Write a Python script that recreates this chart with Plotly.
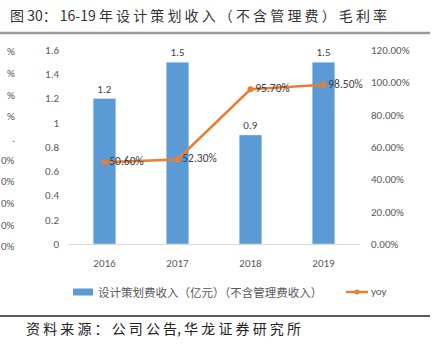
import plotly.graph_objects as go

years = ["2016", "2017", "2018", "2019"]
revenue = [1.2, 1.5, 0.9, 1.5]
yoy = [0.506, 0.523, 0.957, 0.985]
yoy_labels = ["50.60%", "52.30%", "95.70%", "98.50%"]
edge_fragments = ["%", "%", "%", "%", ".", "0%", "0%", "0%", "0%", "0%"]
edge_y_px = [51, 73, 95, 116, 138, 160, 181, 203, 225, 246]

L, R, T, B = 68, 72, 50, 104
W, H = 432, 348
pw, ph = W - L - R, H - T - B
def px(x): return (x - L) / pw
def py(y): return (H - B - y) / ph

gray = "#595959"
numfont = "Calibri, Carlito, 'Open Sans', 'Liberation Sans', sans-serif"
cjk = "'Noto Sans CJK SC', sans-serif"
blue, orange = "#5B9BD5", "#ED7D31"

fig = go.Figure()
fig.add_trace(go.Bar(
    x=years, y=revenue, name="设计策划费收入（亿元）（不含管理费收入）",
    marker_color=blue, width=0.31,
    text=[str(v) for v in revenue], textposition="outside", cliponaxis=False,
    textfont=dict(color="#404040", size=11, family=numfont),
))
fig.add_trace(go.Scatter(
    x=years, y=yoy, name="yoy", yaxis="y2", mode="lines+markers+text",
    line=dict(color=orange, width=2.5), marker=dict(size=6, color=orange),
    text=yoy_labels, textposition="middle right", cliponaxis=False,
    textfont=dict(color="#404040", size=11.5, family=numfont),
))

fig.update_layout(
    width=W, height=H, margin=dict(l=L, r=R, t=T, b=B),
    paper_bgcolor="white", plot_bgcolor="white",
    font=dict(family=numfont, color=gray, size=11),
    xaxis=dict(showline=True, linecolor="#D9D9D9", linewidth=1, ticks="",
               tickfont=dict(size=11, color=gray), showgrid=False,
               ticklabelstandoff=9),
    yaxis=dict(range=[0, 1.6], dtick=0.2, showgrid=False, zeroline=False,
               tickfont=dict(size=11, color=gray), ticklabelstandoff=8),
    yaxis2=dict(range=[0, 1.2], dtick=0.2, overlaying="y", side="right",
                tickformat=".2%", showgrid=False, zeroline=False,
                tickfont=dict(size=11, color=gray), ticklabelstandoff=10),
    showlegend=False,
)

def spaced(s):
    return " ".join(list(s))

annotations = [
    dict(text="图 30： 16-19 " + spaced("年设计策划收入（不含管理费）毛利率"), x=px(8), y=py(15),
         xref="paper", yref="paper", xanchor="left", yanchor="middle", showarrow=False,
         font=dict(family=cjk, size=14, color="#333333")),
    dict(text=spaced("资料来源：公司公告") + ", " + spaced("华龙证券研究所"), x=px(24), y=py(328),
         xref="paper", yref="paper", xanchor="left", yanchor="middle", showarrow=False,
         font=dict(family=cjk, size=14, color="#222222")),
    dict(text="设计策划费收入（亿元）（不含管理费收入）", x=px(96), y=py(292),
         xref="paper", yref="paper", xanchor="left", yanchor="middle", showarrow=False,
         font=dict(family=cjk, size=11.5, color=gray)),
    dict(text="yoy", x=px(369), y=py(291), xref="paper", yref="paper",
         xanchor="left", yanchor="middle", showarrow=False,
         font=dict(family=numfont, size=11, color=gray)),
]
for t, y in zip(edge_fragments, edge_y_px):
    annotations.append(dict(text=t, x=px(17), y=py(y), xref="paper", yref="paper",
                            xanchor="right", yanchor="middle", showarrow=False,
                            font=dict(size=11, color=gray, family=numfont)))
fig.update_layout(annotations=annotations)

fig.add_shape(type="rect", xref="paper", yref="paper", x0=px(73), x1=px(93),
              y0=py(295.5), y1=py(288.5), fillcolor=blue, line=dict(width=0))
fig.add_shape(type="line", xref="paper", yref="paper", x0=px(346), x1=px(368),
              y0=py(292), y1=py(292), line=dict(color=orange, width=2.5))
fig.add_shape(type="circle", xref="paper", yref="paper", x0=px(354.5), x1=px(359.5),
              y0=py(294.5), y1=py(289.5), fillcolor=orange, line=dict(width=0))

fig.add_shape(type="line", xref="paper", yref="paper", x0=px(0), x1=px(430),
              y0=py(33), y1=py(33), line=dict(color="#9A9A9A", width=2.5))
fig.add_shape(type="line", xref="paper", yref="paper", x0=px(0), x1=px(430),
              y0=py(316), y1=py(316), line=dict(color="#222222", width=1.5))

fig.write_html("out.html")
